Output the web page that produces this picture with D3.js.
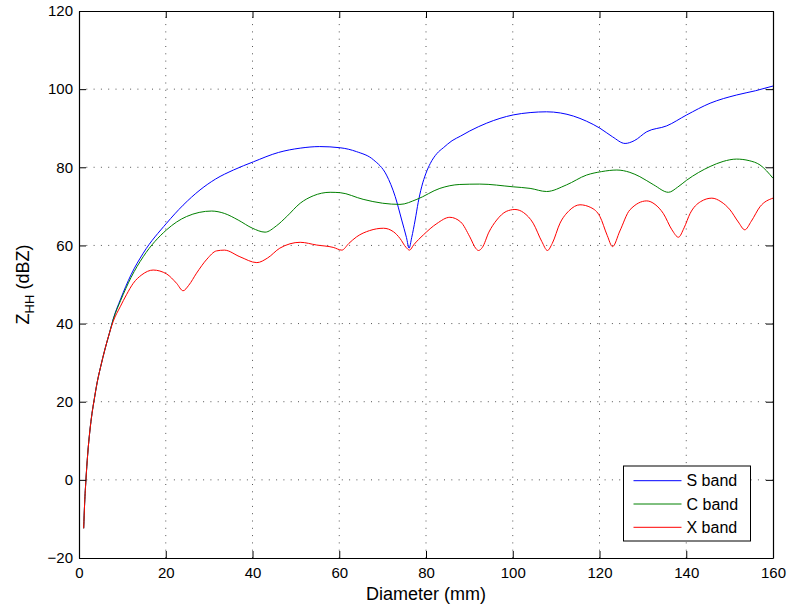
<!DOCTYPE html>
<html>
<head>
<meta charset="utf-8">
<script src="https://cdn.jsdelivr.net/npm/d3@7"></script>
<style>
  body { margin: 0; background: #fff; }
  text { font-family: "Liberation Sans", Arial, Helvetica, sans-serif; fill: #000; }
  .grid line { stroke: #555; stroke-width: 1; stroke-dasharray: 1, 6.3; }
  .tick line { stroke: #000; }
  .plain { fill: none; stroke-width: 1; }
</style>
</head>
<body>
<svg id="chart" width="789" height="609">
  <g id="grid"></g>
  <g id="lines"></g>
  <g id="x_axis"></g>
  <g id="y_axis"></g>
  <g id="x_axis_top"></g>
  <g id="y_axis_right"></g>
  <g id="legend"></g>
</svg>
<script>
  // reflectivity vs. hailstone diameter, three radar bands
  let x_ticks = [0, 20, 40, 60, 80, 100, 120, 140, 160]
  let y_ticks = [-20, 0, 20, 40, 60, 80, 100, 120]
  let band_names = ["S band", "C band", "X band"]
  let band_colors = ["#0000ff", "#008000", "#ff0000"]

  // small drops: all bands agree
  let rise_d = [1.08, 1.3, 1.6, 2.0, 2.5, 3.0, 3.5, 4.2, 5, 6, 7]
  let rise_z = [-12.4, -6, 0, 6.5, 12.5, 17, 20.5, 25, 29, 33.5, 37.5]

  let s_band_d = rise_d.concat([7.9, 9.6, 12, 14.8, 20.2, 24, 27.9, 31.5, 35.6, 40.2, 46, 51, 55.5, 60.2, 64,
    67.9, 70.9, 72.9, 74.4, 75.5, 76.1, 76.7, 77.5, 78.2, 79, 80, 81, 82.5, 84, 86, 88, 90.1, 94,
    100.1, 104, 107.8, 111, 114, 117, 120.1, 123, 125.9, 128, 130.9, 135.5, 140.1, 145.5, 151.6, 156, 160])
  let s_band_z = rise_z.concat([41.2, 46.3, 52.5, 58, 65.7, 70.3, 74.2, 77, 79.3, 81.4, 83.8, 84.9, 85.3, 85, 84,
    81.9, 78, 72.5, 66.5, 62, 59.3, 62, 66.5, 71, 75, 78.5, 81, 83.5, 85, 86.8, 88, 89.3, 91.3,
    93.4, 94, 94.2, 93.9, 93.1, 91.8, 90, 87.8, 86.1, 86.8, 89.1, 90.6, 93.4, 96.4, 98.5, 99.6, 100.8])

  let c_band_d = rise_d.concat([7.9, 9.6, 12, 14.8, 20.2, 24.8, 30.6, 33.5, 36.7, 40, 42.9, 45.5, 47.9, 51, 54,
    57.9, 60.2, 65.5, 70, 74, 77.9, 83.2, 87.8, 92.4, 100.1, 104, 107.8, 112.4, 117, 120.5, 124, 127,
    129.3, 132.5, 135.9, 138, 140.1, 145.5, 148.5, 151.6, 154.5, 157, 160])
  let c_band_z = rise_z.concat([41.1, 45.9, 51.8, 57.1, 64, 67.4, 68.8, 68.2, 66.5, 64.4, 63.4, 65, 67.4, 70.8, 72.7,
    73.6, 73.5, 71.8, 70.8, 70.5, 71.8, 74.6, 75.6, 75.7, 75, 74.6, 73.8, 75.5, 78, 78.9, 79.3, 78.7,
    77.6, 75.5, 73.6, 74.9, 76.7, 80.2, 81.5, 82.1, 81.7, 80.6, 77.2])

  let x_band_d = rise_d.concat([7.9, 9.5, 11, 12.5, 14.5, 17.1, 20.2, 22.5, 24, 25.3, 27.1, 29.5, 31.7, 33.5,
    37.1, 41, 43.5, 46.3, 51, 54.8, 58.6, 60.6, 62.2, 64, 67, 70.2, 72.5, 74, 75.4, 76.2, 77.2, 79.4,
    82.5, 85.5, 88, 90.1, 91.5, 92.1, 93, 94.5, 96.3, 98.5, 100.5, 102.5, 104.7, 106.7, 108, 109.1,
    110.9, 113, 115.5, 118, 120.1, 121.8, 123, 124.7, 127, 130.9, 132.8, 134.7, 136.7, 138.2, 139.5,
    140.9, 143.3, 145.9, 148, 150.1, 152, 153.5, 155, 157, 160])
  let x_band_z = rise_z.concat([40.6, 44.3, 47.5, 50.3, 52.5, 53.7, 52.7, 50.3, 48.4, 49.8, 52.9, 56.5, 58.6, 58.8,
    57.1, 55.6, 56.8, 59.3, 60.8, 60.1, 59.5, 58.8, 60.5, 62.2, 63.8, 64.4, 63.5, 61.8, 59.5, 58.8, 60.2, 62.7,
    65.6, 67.2, 66, 62.2, 59.2, 58.7, 59.5, 63.4, 66.5, 68.7, 69.2, 68.4, 65.7, 61, 58.7, 60.5,
    65.7, 68.9, 70.4, 69.7, 67.4, 62.5, 59.7, 63.7, 69.1, 71.4, 70.5, 68.2, 64, 62.1, 64.5,
    68.2, 71.2, 72.1, 71.2, 69.1, 66, 64, 66.2, 69.9, 72.1])

  function make_scales(margin) {
    return {
      x: d3.scaleLinear()
        .domain([0, 160])
        .range([margin.left, 789 - margin.right]),
      y: d3.scaleLinear()
        .domain([-20, 120])
        .range([609 - margin.bottom, margin.top])
    }
  }

  function draw_grid(scales) {
    let g = d3.select("#grid").attr("class", "grid")
    let [y0, y1] = scales.y.range()
    let [x0, x1] = scales.x.range()

    g.selectAll("line.v")
      .data(x_ticks.slice(1, -1)).enter()
      .append("line")
      .attr("class", "v")
      .attr("x1", d => scales.x(d)).attr("x2", d => scales.x(d))
      .attr("y1", y0).attr("y2", y1)

    g.selectAll("line.h")
      .data(y_ticks.slice(1, -1)).enter()
      .append("line")
      .attr("class", "h")
      .attr("x1", x0).attr("x2", x1)
      .attr("y1", d => scales.y(d)).attr("y2", d => scales.y(d))
  }

  function draw_lines(series, scales) {
    let path_generator = d3.line()
      .x(d => scales.x(d[0]))
      .y(d => scales.y(d[1]))
      .curve(d3.curveMonotoneX)

    d3.select("#lines")
      .selectAll("path")
      .data(series).enter()
      .append("path")
      .attr("class", "plain")
      .attr("stroke", d => d.color)
      .attr("d", d => path_generator(d.points))
  }

  function draw_axes(scales) {
    let [y0, y1] = scales.y.range()
    let [x0, x1] = scales.x.range()

    let x_axis = d3.axisBottom(scales.x).tickValues(x_ticks)
      .tickSizeInner(-7).tickSizeOuter(0).tickPadding(9)
    d3.select("#x_axis")
      .attr("transform", `translate(0, ${y0})`)
      .call(x_axis)

    let y_axis = d3.axisLeft(scales.y).tickValues(y_ticks)
      .tickSizeInner(-7).tickSizeOuter(0).tickPadding(6)
    d3.select("#y_axis")
      .attr("transform", `translate(${x0}, 0)`)
      .call(y_axis)

    // mirrored ticks on the top and right edges
    d3.select("#x_axis_top")
      .attr("transform", `translate(0, ${y1})`)
      .call(d3.axisTop(scales.x).tickValues(x_ticks).tickSizeInner(-7).tickSizeOuter(0).tickFormat(""))
    d3.select("#y_axis_right")
      .attr("transform", `translate(${x1}, 0)`)
      .call(d3.axisRight(scales.y).tickValues(y_ticks).tickSizeInner(-7).tickSizeOuter(0).tickFormat(""))

    d3.selectAll("#x_axis text, #y_axis text")
      .style("font-size", "15px")
    d3.selectAll("#x_axis, #y_axis, #x_axis_top, #y_axis_right")
      .attr("font-family", null)
    d3.selectAll(".domain").attr("stroke", "#000").attr("stroke-width", 1.2)

    d3.select("#chart").append("text")
      .attr("x", (x0 + x1) / 2)
      .attr("y", 600)
      .attr("text-anchor", "middle")
      .style("font-size", "18px")
      .text("Diameter (mm)")

    let y_label = d3.select("#chart").append("text")
      .attr("transform", `translate(29, ${(y0 + y1) / 2}) rotate(-90)`)
      .attr("text-anchor", "middle")
      .style("font-size", "18px")
    y_label.append("tspan").text("Z")
    y_label.append("tspan").attr("dy", 5).style("font-size", "13px").text("HH")
    y_label.append("tspan").attr("dy", -5).text(" (dBZ)")
  }

  function draw_legend(series) {
    let g = d3.select("#legend").attr("transform", "translate(623.5, 466)")
    g.append("rect")
      .attr("width", 127).attr("height", 75)
      .attr("fill", "#fff").attr("stroke", "#000").attr("stroke-width", 1)

    let rows = g.selectAll("g.row")
      .data(series).enter()
      .append("g")
      .attr("class", "row")
      .attr("transform", (d, i) => `translate(0, ${14.7 + i * 23.3})`)
    rows.append("line")
      .attr("x1", 10).attr("x2", 58)
      .attr("stroke", d => d.color)
    rows.append("text")
      .attr("x", 63).attr("dy", "0.36em")
      .style("font-size", "16px")
      .text(d => d.name)
  }

  function visualize() {
    let margin = {top: 11, right: 16, bottom: 51, left: 79}
    let scales = make_scales(margin)
    let series = [
      {name: band_names[0], color: band_colors[0], points: d3.zip(s_band_d, s_band_z)},
      {name: band_names[1], color: band_colors[1], points: d3.zip(c_band_d, c_band_z)},
      {name: band_names[2], color: band_colors[2], points: d3.zip(x_band_d, x_band_z)}
    ]
    draw_grid(scales)
    draw_lines(series, scales)
    draw_axes(scales)
    draw_legend(series)
  }

  visualize()
</script>
</body>
</html>
